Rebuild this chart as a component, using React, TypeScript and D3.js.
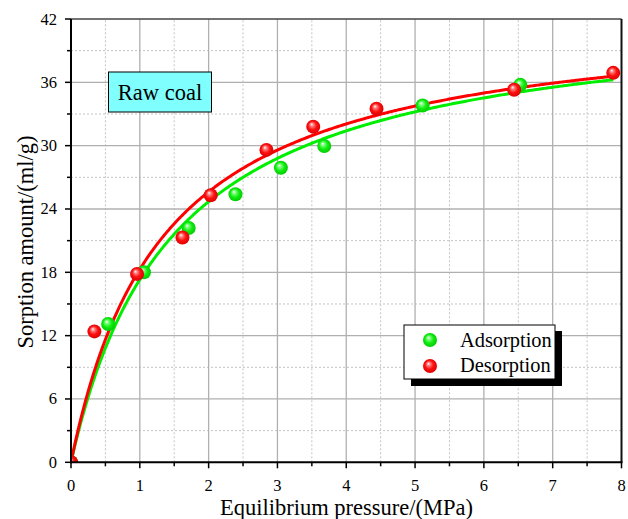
import React from 'react'
import * as d3 from 'd3'

// measured points, pressure in MPa / sorption in ml/g
const adsPressure = [0, 0.54, 1.06, 1.71, 2.39, 3.05, 3.68, 5.11, 6.53]
const adsAmount = [0, 13.1, 18.0, 22.2, 25.4, 27.9, 29.97, 33.8, 35.76]
const desPressure = [0, 0.34, 0.96, 1.62, 2.03, 2.84, 3.52, 4.44, 6.44, 7.88]
const desAmount = [0, 12.4, 17.85, 21.3, 25.3, 29.6, 31.8, 33.5, 35.3, 36.9]

// Langmuir fit parameters (V = a*b*p/(1+b*p))
const adsFit = { a: 43.1, b: 0.671 }
const desFit = { a: 42.8, b: 0.746 }

const xTicks = [0, 1, 2, 3, 4, 5, 6, 7, 8]
const yTicks = [0, 6, 12, 18, 24, 30, 36, 42]

const W = 628
const H = 519
const margin = { left: 71, right: 6.5, top: 19, bottom: 56.7 }
const FONT = 'Liberation Serif'

const App = () => {
    const x = d3.scaleLinear().domain([0, 8]).range([margin.left, W - margin.right])
    const y = d3.scaleLinear().domain([0, 42]).range([H - margin.bottom, margin.top])
    const x0 = x(0), x1 = x(8), y0 = y(0), y1 = y(42)

    const xMinor = d3.range(0.5, 8, 1)
    const yMinor = d3.range(3, 42, 6)

    const fitLine = (fit: { a: number, b: number }, pMax: number) => {
        const ps = d3.range(0, pMax, 0.02).concat([pMax])
        const pts: [number, number][] = ps.map(p => [p, fit.a * fit.b * p / (1 + fit.b * p)])
        return d3.line().x(d => x(d[0])).y(d => y(d[1]))(pts) || ''
    }

    const green = '#00ee00'
    const red = '#ff0000'

    const ball = (cx: number, cy: number, grad: string, key: any) => (
        <circle key={key} cx={cx} cy={cy} r={7} fill={`url(#${grad})`} />
    )
    const txt = { fontFamily: FONT, fill: '#000' }

    return (
        <svg width={W} height={H} style={{ position: 'fixed', left: 0, top: 0, background: '#fff' }}>
            <defs>
                <radialGradient id="gGreen" cx="50%" cy="50%" r="55%" fx="38%" fy="32%">
                    <stop offset="0%" stopColor="#ffffff" />
                    <stop offset="22%" stopColor="#7dff7d" />
                    <stop offset="55%" stopColor="#11ee11" />
                    <stop offset="100%" stopColor="#00c400" />
                </radialGradient>
                <radialGradient id="gRed" cx="50%" cy="50%" r="55%" fx="38%" fy="32%">
                    <stop offset="0%" stopColor="#ffffff" />
                    <stop offset="22%" stopColor="#ff8080" />
                    <stop offset="55%" stopColor="#ff1010" />
                    <stop offset="100%" stopColor="#d40000" />
                </radialGradient>
                <clipPath id="plotClip">
                    <rect x={x0} y={y1} width={x1 - x0} height={y0 - y1} />
                </clipPath>
            </defs>

            {/* minor grid */}
            {xMinor.map(v => (
                <line key={'xm' + v} x1={x(v)} x2={x(v)} y1={y0} y2={y1}
                    stroke="#c4c4c4" strokeWidth={1} strokeDasharray="2,2" />
            ))}
            {yMinor.map(v => (
                <line key={'ym' + v} x1={x0} x2={x1} y1={y(v)} y2={y(v)}
                    stroke="#c4c4c4" strokeWidth={1} strokeDasharray="2,2" />
            ))}
            {/* major grid */}
            {xTicks.slice(1, -1).map(v => (
                <line key={'xg' + v} x1={x(v)} x2={x(v)} y1={y0} y2={y1} stroke="#b0b0b0" strokeWidth={1.3} />
            ))}
            {yTicks.slice(1, -1).map(v => (
                <line key={'yg' + v} x1={x0} x2={x1} y1={y(v)} y2={y(v)} stroke="#b0b0b0" strokeWidth={1.3} />
            ))}

            {/* frame */}
            <line x1={x0} x2={x1} y1={y1} y2={y1} stroke="#444" strokeWidth={1.5} />
            <line x1={x1} x2={x1} y1={y1} y2={y0} stroke="#111" strokeWidth={2} />

            {/* fitted curves */}
            <g clipPath="url(#plotClip)">
                <path d={fitLine(adsFit, 7.88)} fill="none" stroke={green} strokeWidth={3} />
                <path d={fitLine(desFit, 7.88)} fill="none" stroke={red} strokeWidth={3} />
            </g>

            {/* points */}
            <g clipPath="url(#plotClip)">
                {adsPressure.map((p, i) => ball(x(p), y(adsAmount[i]), 'gGreen', 'a' + i))}
                {desPressure.map((p, i) => ball(x(p), y(desAmount[i]), 'gRed', 'd' + i))}
            </g>

            {/* axes */}
            <line x1={x0} x2={x0} y1={y1} y2={y0 + 1} stroke="#000" strokeWidth={2} />
            <line x1={x0 - 1} x2={x1 + 1} y1={y0} y2={y0} stroke="#000" strokeWidth={2} />
            {yTicks.map(v => (
                <g key={'yt' + v}>
                    <line x1={x0 - 6} x2={x0} y1={y(v)} y2={y(v)} stroke="#000" strokeWidth={1.5} />
                    <text x={x0 - 14} y={y(v) + 5.5} textAnchor="end" fontSize={16.5} style={txt}>{v}</text>
                </g>
            ))}
            {yMinor.map(v => (
                <line key={'ymt' + v} x1={x0 - 4} x2={x0} y1={y(v)} y2={y(v)} stroke="#000" strokeWidth={1.5} />
            ))}
            {xTicks.map(v => (
                <g key={'xt' + v}>
                    <line x1={x(v)} x2={x(v)} y1={y0} y2={y0 + 6} stroke="#000" strokeWidth={1.5} />
                    <text x={x(v)} y={490.5} textAnchor="middle" fontSize={16.5} style={txt}>{v}</text>
                </g>
            ))}
            {xMinor.map(v => (
                <line key={'xmt' + v} x1={x(v)} x2={x(v)} y1={y0} y2={y0 + 4} stroke="#000" strokeWidth={1.5} />
            ))}

            {/* axis titles */}
            <text x={346.5} y={515} textAnchor="middle" fontSize={22.5} style={txt}>Equilibrium pressure/(MPa)</text>
            <text transform="translate(33,242) rotate(-90)" textAnchor="middle" fontSize={22.5} style={txt}>
                Sorption amount/(ml/g)
            </text>

            {/* label box */}
            <rect x={108.5} y={72} width={103} height={40} fill="#80ffff" stroke="#000" strokeWidth={1} />
            <text x={160} y={99.5} textAnchor="middle" fontSize={22.5} style={txt}>Raw coal</text>

            {/* legend */}
            <rect x={411} y={331} width={151} height={55} fill="#000" />
            <rect x={404} y={325} width={151} height={54} fill="#fff" stroke="#000" strokeWidth={1} />
            {ball(430, 340, 'gGreen', 'la')}
            {ball(430, 366, 'gRed', 'ld')}
            <text x={460} y={346.5} fontSize={20.4} style={txt}>Adsorption</text>
            <text x={460} y={372} fontSize={20.4} style={txt}>Desorption</text>
        </svg>
    )
}

export default App
